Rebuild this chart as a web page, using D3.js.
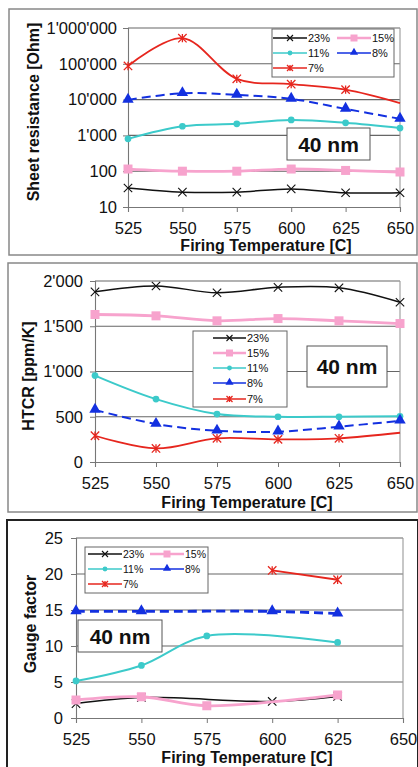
<!DOCTYPE html>
<html>
<head>
<meta charset="utf-8">
<script src="https://cdn.jsdelivr.net/npm/d3@7"></script>
<style>
  body { margin: 0; background: #fff; }
  text { font-family: "Liberation Sans", Arial, sans-serif; fill: #111; }
</style>
</head>
<body>
<div class="charts"></div>
<script>
// x categories (firing temperature, C)
var temps = [525, 550, 575, 600, 625, 650];
var seriesNames = ["23%", "15%", "11%", "8%", "7%"];

// sheet resistance [Ohm]
var rsheet23 = [34, 26, 26, 32, 25, 25];
var rsheet15 = [115, 100, 100, 115, 105, 95];
var rsheet11 = [800, 1800, 2100, 2700, 2250, 1600];
var rsheet8  = [9800, 15000, 13500, 10500, 5500, 2900];
var rsheet7  = [87000, 520000, 38000, 27000, 19000, 8000];

// HTCR [ppm/K]
var htcr23 = [1880, 1945, 1870, 1930, 1925, 1765];
var htcr15 = [1630, 1615, 1560, 1585, 1560, 1530];
var htcr11 = [955, 695, 530, 500, 500, 505];
var htcr8  = [575, 420, 345, 335, 390, 455];
var htcr7  = [290, 150, 262, 250, 262, 323];

// gauge factor (null = not measured)
var gf23 = [2.0, 2.85, null, 2.3, 3.0, null];
var gf15 = [2.5, 2.95, 1.7, null, 3.2, null];
var gf11 = [5.15, 7.3, 11.4, null, 10.5, null];
var gf8  = [14.8, 14.8, null, 14.8, 14.5, null];
var gf7  = [null, null, null, 20.5, 19.2, null];

var rsheetTicks = [10, 100, 1000, 10000, 100000, 1000000];
var htcrTicks = [0, 500, 1000, 1500, 2000];
var gfTicks = [0, 5, 10, 15, 20, 25];

var styles = {
  "23%": {color: "#111", width: 1.5, dash: null, marker: "x"},
  "15%": {color: "#f7a3cd", width: 2.8, dash: null, marker: "square"},
  "11%": {color: "#3ccaca", width: 2, dash: null, marker: "circle"},
  "8%":  {color: "#1330e0", width: 2, dash: "9,5", marker: "triangle"},
  "7%":  {color: "#e6261e", width: 1.8, dash: null, marker: "star"}
};

var svg = d3.select(".charts").append("svg")
  .attr("width", 418)
  .attr("height", 767);

var apos = function(v) { return d3.format(",")(v).replace(/,/g, "'"); };

function drawMarker(g, kind, cx, cy, s, color) {
  if (kind == "x") {
    g.append("path").attr("d", "M" + (cx - s) + "," + (cy - s) + "L" + (cx + s) + "," + (cy + s) +
        "M" + (cx - s) + "," + (cy + s) + "L" + (cx + s) + "," + (cy - s))
      .attr("stroke", color).attr("stroke-width", 1.1).attr("fill", "none");
  } else if (kind == "star") {
    g.append("path").attr("d", "M" + (cx - s) + "," + (cy - s) + "L" + (cx + s) + "," + (cy + s) +
        "M" + (cx - s) + "," + (cy + s) + "L" + (cx + s) + "," + (cy - s) +
        "M" + cx + "," + (cy - s) + "L" + cx + "," + (cy + s))
      .attr("stroke", color).attr("stroke-width", 1.3).attr("fill", "none");
  } else if (kind == "square") {
    g.append("rect").attr("x", cx - s).attr("y", cy - s)
      .attr("width", 2 * s).attr("height", 2 * s).attr("fill", color);
  } else if (kind == "circle") {
    g.append("circle").attr("cx", cx).attr("cy", cy).attr("r", s * 0.8).attr("fill", color);
  } else if (kind == "triangle") {
    g.append("path").attr("d", d3.symbol().type(d3.symbolTriangle).size(s * s * 3.2)())
      .attr("transform", "translate(" + cx + "," + (cy - 0.5) + ")")
      .attr("fill", color);
  }
}

function drawPanel(p) {
  var g = svg.append("g");

  g.append("rect")
    .attr("x", p.frame[0]).attr("y", p.frame[1])
    .attr("width", p.frame[2]).attr("height", p.frame[3])
    .attr("fill", "#fff").attr("stroke", p.frameColor).attr("stroke-width", p.frameWidth);

  var x = d3.scaleLinear().domain([525, 650]).range([p.left, p.right]);
  var y = p.y.range([p.bottom, p.top]);

  // gridlines
  g.append("g").selectAll("line")
    .data(p.yTicks.slice(1))
    .enter().append("line")
    .attr("x1", p.left).attr("x2", p.right)
    .attr("y1", function(d) { return y(d); })
    .attr("y2", function(d) { return y(d); })
    .attr("stroke", "#666").attr("stroke-width", 1.1);

  // plot border right side
  g.append("line")
    .attr("x1", p.right).attr("x2", p.right).attr("y1", p.top).attr("y2", p.bottom)
    .attr("stroke", "#999").attr("stroke-width", 1.1);

  var yAxis = g.append("g")
    .attr("transform", "translate(" + p.left + ",0)")
    .call(d3.axisLeft(y).tickValues(p.yTicks).tickFormat(apos).tickSize(5).tickPadding(p.yPad));
  var xAxis = g.append("g")
    .attr("transform", "translate(0," + p.bottom + ")")
    .call(d3.axisBottom(x).tickValues(temps).tickFormat(d3.format("d")).tickSize(5).tickPadding(10));

  [xAxis, yAxis].forEach(function(a) {
    a.select(".domain").attr("stroke", "#777").attr("stroke-width", 1.1);
    a.selectAll(".tick line").attr("stroke", "#777");
    a.selectAll("text").style("font-size", "16.5px").attr("fill", "#111");
  });

  // axis titles
  g.append("text")
    .attr("x", p.xTitle[0]).attr("y", p.xTitle[1])
    .attr("text-anchor", "middle")
    .style("font-size", "16px").style("font-weight", "bold")
    .text("Firing Temperature [C]");
  g.append("text")
    .attr("transform", "translate(" + p.yTitle[0] + "," + p.yTitle[1] + ") rotate(-90)")
    .attr("text-anchor", "middle").attr("dy", "0.35em")
    .style("font-size", "16px").style("font-weight", "bold")
    .text(p.yLabel);

  // series
  var line = d3.line()
    .x(function(d) { return x(d.t); })
    .y(function(d) { return y(d.v); })
    .curve(d3.curveCatmullRom.alpha(0.5));

  p.series.forEach(function(vals, i) {
    var name = seriesNames[i];
    var st = styles[name];
    var pts = temps.map(function(t, j) { return {t: t, v: vals[j]}; })
      .filter(function(d) { return d.v != null; });
    g.append("path")
      .datum(pts)
      .attr("d", line)
      .attr("fill", "none")
      .attr("stroke", st.color)
      .attr("stroke-width", name == "8%" ? p.dashWidth : st.width)
      .attr("stroke-dasharray", st.dash);
    var mg = g.append("g");
    pts.forEach(function(d, j) {
      if (name == "7%" && p.hideLast7 && j == pts.length - 1) return;
      drawMarker(mg, st.marker, x(d.t), y(d.v), st.marker == "square" ? 4.5 : 4.2, st.color);
    });
  });

  // legend
  var L = p.legend;
  g.append("rect")
    .attr("x", L.box[0]).attr("y", L.box[1]).attr("width", L.box[2]).attr("height", L.box[3])
    .attr("fill", "#fff").attr("stroke", "#666").attr("stroke-width", 1);
  seriesNames.forEach(function(name, i) {
    var st = styles[name];
    var pos = L.pos[i];
    g.append("line")
      .attr("x1", pos[0]).attr("x2", pos[0] + L.len)
      .attr("y1", pos[1]).attr("y2", pos[1])
      .attr("stroke", st.color).attr("stroke-width", st.width > 2 ? 2.6 : 1.6);
    drawMarker(g, st.marker, pos[0] + L.len / 2, pos[1], st.marker == "square" ? 3.5 : 3, st.color);
    g.append("text")
      .attr("x", pos[0] + L.len + 1).attr("y", pos[1]).attr("dy", "0.36em")
      .style("font-size", L.font + "px")
      .text(name);
  });

  // "40 nm" label
  g.append("rect")
    .attr("x", p.tag[0]).attr("y", p.tag[1]).attr("width", p.tag[2]).attr("height", p.tag[3])
    .attr("fill", "#fff").attr("stroke", "#555").attr("stroke-width", 1);
  g.append("text")
    .attr("x", p.tag[0] + p.tag[2] / 2).attr("y", p.tag[1] + p.tag[3] / 2)
    .attr("dy", "0.36em").attr("text-anchor", "middle")
    .style("font-size", "21px").style("font-weight", "bold")
    .text("40 nm");
}

drawPanel({
  frame: [9, 9, 408, 246], frameColor: "#888", frameWidth: 1.5,
  left: 128, right: 400, top: 28, bottom: 207,
  y: d3.scaleLog().domain([10, 1000000]), yTicks: rsheetTicks, yPad: 6,
  yLabel: "Sheet resistance [Ohm]", yTitle: [33, 112], xTitle: [266, 251],
  series: [rsheet23, rsheet15, rsheet11, rsheet8, rsheet7], hideLast7: true, dashWidth: 2,
  legend: {box: [272, 29, 122, 48], len: 34, font: 11,
    pos: [[273, 38], [337, 38], [273, 53], [337, 53], [273, 68]]},
  tag: [287, 128, 83, 32]
});

drawPanel({
  frame: [8, 263, 409, 249], frameColor: "#888", frameWidth: 1.5,
  left: 95, right: 400, top: 281, bottom: 462,
  y: d3.scaleLinear().domain([0, 2000]), yTicks: htcrTicks, yPad: 7,
  yLabel: "HTCR [ppm/K]", yTitle: [28, 376], xTitle: [247, 508],
  series: [htcr23, htcr15, htcr11, htcr8, htcr7], hideLast7: true, dashWidth: 2,
  legend: {box: [193, 331, 94, 76], len: 33, font: 11,
    pos: [[213, 338], [213, 353], [213, 368], [213, 383], [213, 399]]},
  tag: [307, 346, 80, 41]
});

drawPanel({
  frame: [7, 520, 411, 262], frameColor: "#222", frameWidth: 2,
  left: 76, right: 403, top: 538, bottom: 718,
  y: d3.scaleLinear().domain([0, 25]), yTicks: gfTicks, yPad: 8,
  yLabel: "Gauge factor", yTitle: [30, 624], xTitle: [247, 763],
  series: [gf23, gf15, gf11, gf8, gf7], hideLast7: false, dashWidth: 2.8,
  legend: {box: [85, 547, 123, 46], len: 34, font: 10.5,
    pos: [[88, 554], [150, 554], [88, 569], [150, 569], [88, 584]]},
  tag: [78, 620, 84, 32]
});
</script>
</body>
</html>
